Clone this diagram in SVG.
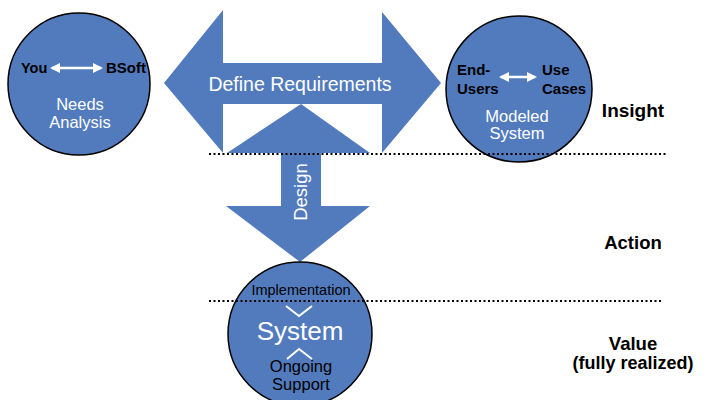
<svg xmlns="http://www.w3.org/2000/svg" width="711" height="400" viewBox="0 0 711 400">
<style>
.shape{fill:#527BBE}
.circ{fill:#527BBE;stroke:#000;stroke-width:1.5}
.dots{stroke:#000;stroke-width:2;stroke-dasharray:2 2.5;fill:none}
.w{fill:#fff;font-family:"Liberation Sans",Arial,sans-serif}
.b{fill:#000;font-family:"Liberation Sans",Arial,sans-serif}
.bold{font-weight:bold}
.link{stroke:#fff;stroke-width:2.5;fill:none}
.chev{stroke:#fff;stroke-width:2;fill:none}
</style>
<defs>
<marker id="ah" viewBox="0 0 10 10" refX="8" refY="5" markerWidth="4" markerHeight="4" orient="auto-start-reverse" markerUnits="strokeWidth">
<path d="M0,0 L10,5 L0,10 z" fill="#fff"/>
</marker>
</defs>
<rect width="711" height="400" fill="#fff"/>
<g id="define-requirements">
<polygon class="shape" points="164,83 223,10 223,63 382,63 382,12 441,83 382,153 382,104 223,104 223,153"/>
<text class="w" x="300" y="91" font-size="19.5" text-anchor="middle">Define Requirements</text>
</g>
<g id="design">
<polygon class="shape" points="301,104 370,153 227,153"/>
<polygon class="shape" points="281,153 321,153 321,206 370,206 300,262 226,206 281,206"/>
<text class="w" transform="translate(307,192) rotate(-90)" font-size="18.5" text-anchor="middle">Design</text>
</g>
<g id="needs-analysis">
<circle class="circ" cx="79" cy="84" r="71"/>
<text class="b bold" x="21" y="73" font-size="14.5">You</text>
<text class="b bold" x="106" y="73" font-size="15">BSoft</text>
<text class="w" x="80" y="110" font-size="16.5" text-anchor="middle">Needs</text>
<text class="w" x="80" y="128" font-size="16.5" text-anchor="middle">Analysis</text>
</g>
<g id="modeled-system">
<circle class="circ" cx="519" cy="89" r="73"/>
<text class="b bold" x="457" y="75" font-size="15">End-</text>
<text class="b bold" x="457" y="94" font-size="15">Users</text>
<text class="b bold" x="542" y="75" font-size="15">Use</text>
<text class="b bold" x="542" y="94" font-size="15">Cases</text>
<text class="w" x="517" y="122" font-size="16.5" text-anchor="middle">Modeled</text>
<text class="w" x="517" y="139" font-size="16.5" text-anchor="middle">System</text>
</g>
<g id="system">
<circle class="circ" cx="300" cy="334" r="72"/>
<text class="b" x="301" y="295" font-size="14.5" text-anchor="middle">Implementation</text>
<text class="w" x="300" y="340" font-size="26" text-anchor="middle">System</text>
<text class="b" x="301" y="372" font-size="16.5" text-anchor="middle">Ongoing</text>
<text class="b" x="301" y="390" font-size="16.5" text-anchor="middle">Support</text>
<polyline class="chev" points="286,306 299,316 312,306"/>
<polyline class="chev" points="287,359 299,349 312,359"/>
</g>
<g id="connectors">
<line class="link" x1="52" y1="68" x2="101" y2="68" marker-start="url(#ah)" marker-end="url(#ah)"/>
<line class="link" x1="501" y1="77" x2="535" y2="77" marker-start="url(#ah)" marker-end="url(#ah)"/>
</g>
<g id="levels">
<line class="dots" x1="209" y1="154" x2="667" y2="154"/>
<line class="dots" x1="209" y1="301" x2="663" y2="301"/>
<text class="b bold" x="633" y="117" font-size="19" text-anchor="middle">Insight</text>
<text class="b bold" x="633" y="249" font-size="18.5" text-anchor="middle">Action</text>
<text class="b bold" x="633" y="350" font-size="18.5" text-anchor="middle">Value</text>
<text class="b bold" x="633" y="369" font-size="18" text-anchor="middle">(fully realized)</text>
</g>
</svg>
